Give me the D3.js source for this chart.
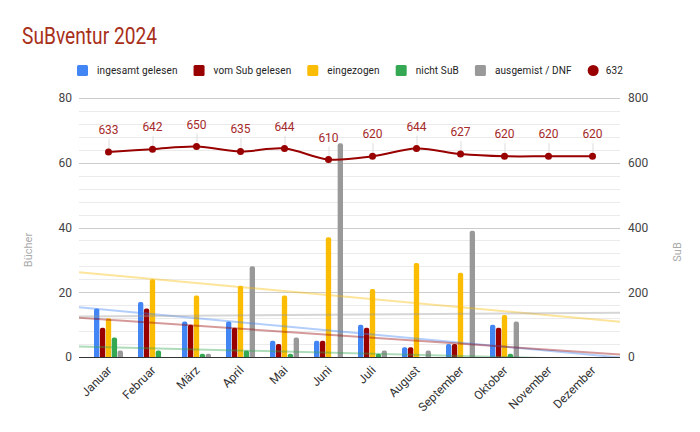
<!DOCTYPE html>
<html>
<head>
<meta charset="utf-8">
<script src="https://cdn.jsdelivr.net/npm/d3@7"></script>
<style>
  html, body { margin: 0; padding: 0; background: #fff; }
  svg { display: block; font-family: Roboto, "Noto Sans", Arial, sans-serif; }
</style>
</head>
<body>
<svg id="chart" width="700" height="432"></svg>
<script>
// ---- data ----
const months = ["Januar","Februar","März","April","Mai","Juni","Juli","August","September","Oktober","November","Dezember"];
const seriesNames = ["ingesamt gelesen","vom Sub gelesen","eingezogen","nicht SuB","ausgemist / DNF"];
const seriesColors = ["#4285f4","#990000","#fbbc04","#34a853","#999999"];
const gelesen    = [15,17,11,11,5,5,10,3,4,10,0,0];
const vomSub     = [9,15,10,9,4,5,9,3,4,9,0,0];
const eingezogen = [12,24,19,22,19,37,21,29,26,13,0,0];
const nichtSub   = [6,2,1,2,1,0,1,0,0,1,0,0];
const ausgemist  = [2,0,1,28,6,66,2,2,39,11,0,0];
const subName = "632";
const subValues  = [633,642,650,635,644,610,620,644,627,620,620,620];
const leftTicks  = [0,20,40,60,80];
const rightTicks = [0,200,400,600,800];
const minorTicks = d3.range(0, 81, 4);

const barSeries = [gelesen, vomSub, eingezogen, nichtSub, ausgemist];

// ---- layout ----
const svg = d3.select("#chart");
const plot = {left: 79, right: 620, top: 98, bottom: 357};
const lineColor = "#990000";

const x = d3.scaleBand().domain(months).range([86.5, 614.5]).paddingInner(0).paddingOuter(0);
const xInner = d3.scaleBand().domain(d3.range(5)).range([-14.5, 14.5]).paddingInner(0.1);
const y = d3.scaleLinear().domain([0, 80]).range([plot.bottom, plot.top]);
const y2 = d3.scaleLinear().domain([0, 800]).range([plot.bottom, plot.top]);
// index scale for trend lines (1-based month index -> band centre)
const xi = d3.scaleLinear().domain([1, 12]).range([x(months[0]) + x.bandwidth()/2, x(months[11]) + x.bandwidth()/2]);

// title
svg.append("text").attr("x", 22).attr("y", 44)
  .attr("font-size", 23).attr("fill", "#a8301a")
  .attr("textLength", 135).attr("lengthAdjust", "spacingAndGlyphs")
  .text("SuBventur 2024");

// legend
const legend = svg.append("g").attr("font-size", 10).attr("fill", "#222").attr("letter-spacing", 0.12);
let lx = 77;
const ly = 70.5;
seriesNames.forEach((name, i) => {
  legend.append("rect").attr("x", lx).attr("y", ly - 5.5).attr("width", 11).attr("height", 11)
    .attr("rx", 1.5).attr("fill", seriesColors[i]);
  const t = legend.append("text").attr("x", lx + 20).attr("y", ly + 3.5).text(name);
  const w = t.node().getComputedTextLength();
  lx = lx + 20 + w + 16;
});
legend.append("circle").attr("cx", lx + 5.5).attr("cy", ly).attr("r", 5.5).attr("fill", lineColor);
legend.append("text").attr("x", lx + 18).attr("y", ly + 3.5).text(subName);

// gridlines
const grid = svg.append("g");
grid.selectAll("line.minor").data(minorTicks.filter(v => v % 20 !== 0)).join("line")
  .attr("x1", plot.left).attr("x2", plot.right)
  .attr("y1", d => Math.round(y(d)) + 0.5).attr("y2", d => Math.round(y(d)) + 0.5)
  .attr("stroke", "#ebebeb").attr("stroke-width", 1);
grid.selectAll("line.major").data(leftTicks.filter(v => v !== 0)).join("line")
  .attr("x1", plot.left).attr("x2", plot.right)
  .attr("y1", d => Math.round(y(d)) + 0.5).attr("y2", d => Math.round(y(d)) + 0.5)
  .attr("stroke", "#cccccc").attr("stroke-width", 1);

// left axis labels
const leftAxis = d3.axisLeft(y).tickValues(leftTicks).tickSize(0).tickPadding(0);
svg.append("g").attr("transform", `translate(${plot.left - 7},0)`).call(leftAxis)
  .call(g => g.select(".domain").remove())
  .call(g => g.selectAll("text").attr("font-size", 12).attr("fill", "#444").attr("font-family", "Roboto, sans-serif"));

// right axis labels
const rightAxis = d3.axisRight(y2).tickValues(rightTicks).tickSize(0).tickPadding(0);
svg.append("g").attr("transform", `translate(${plot.right + 8},0)`).call(rightAxis)
  .call(g => g.select(".domain").remove())
  .call(g => g.selectAll("text").attr("font-size", 12).attr("fill", "#444").attr("font-family", "Roboto, sans-serif"));

// axis titles
svg.append("text").attr("transform", `translate(32,250) rotate(-90)`)
  .attr("text-anchor", "middle").attr("font-size", 11).attr("fill", "#aaaaaa").text("Bücher");
svg.append("text").attr("transform", `translate(681,252) rotate(-90)`)
  .attr("text-anchor", "middle").attr("font-size", 11).attr("fill", "#aaaaaa").text("SuB");

// bars
function barPath(x0, w, yTop, yBot) {
  const h = yBot - yTop;
  if (h <= 0) return "";
  const r = Math.min(2, w / 2, h);
  return `M${x0},${yBot}V${yTop + r}Q${x0},${yTop} ${x0 + r},${yTop}H${x0 + w - r}Q${x0 + w},${yTop} ${x0 + w},${yTop + r}V${yBot}Z`;
}
const bars = svg.append("g");
barSeries.forEach((vals, si) => {
  bars.selectAll(null).data(vals.map((v, i) => ({v, m: months[i]}))).join("path")
    .attr("d", d => barPath(x(d.m) + x.bandwidth()/2 + xInner(si), xInner.bandwidth(), y(d.v), y(0)))
    .attr("fill", seriesColors[si]);
});

// trend lines (linear regression over months 1..12)
svg.append("clipPath").attr("id", "clip").append("rect")
  .attr("x", plot.left).attr("y", plot.top).attr("width", plot.right - plot.left).attr("height", plot.bottom - plot.top);
const trends = svg.append("g").attr("clip-path", "url(#clip)");
barSeries.forEach((vals, si) => {
  const pts = vals.map((v, i) => [i + 1, v]);
  const mx = d3.mean(pts, p => p[0]), my = d3.mean(pts, p => p[1]);
  const sxy = d3.sum(pts, p => (p[0] - mx) * (p[1] - my));
  const sxx = d3.sum(pts, p => (p[0] - mx) ** 2);
  const slope = sxy / sxx, icpt = my - slope * mx;
  const i0 = xi.invert(plot.left), i1 = xi.invert(plot.right);
  trends.append("line")
    .attr("x1", plot.left).attr("x2", plot.right)
    .attr("y1", y(icpt + slope * i0)).attr("y2", y(icpt + slope * i1))
    .attr("stroke", seriesColors[si]).attr("stroke-width", 2).attr("stroke-opacity", 0.4);
});

// baseline
svg.append("line").attr("x1", plot.left).attr("x2", plot.right)
  .attr("y1", plot.bottom + 0.5).attr("y2", plot.bottom + 0.5)
  .attr("stroke", "#333").attr("stroke-width", 1);

// x labels
const xAxis = d3.axisBottom(x).tickSize(0).tickPadding(0);
svg.append("g").attr("transform", `translate(0,${plot.bottom})`).call(xAxis)
  .call(g => g.select(".domain").remove())
  .call(g => g.selectAll("text")
    .attr("font-size", 12).attr("fill", "#333").attr("font-family", "Roboto, sans-serif")
    .attr("text-anchor", "end").attr("dy", 0)
    .attr("transform", "translate(4,14) rotate(-45)"));

// SuB line
const lineData = subValues.map((v, i) => ({v, m: months[i]}));
const cx = d => x(d.m) + x.bandwidth()/2;
// leader lines for labels
svg.append("g").selectAll("line").data(lineData).join("line")
  .attr("x1", d => cx(d) + 0.5).attr("x2", d => cx(d) + 0.5)
  .attr("y1", d => y2(d.v) - 13).attr("y2", d => y2(d.v))
  .attr("stroke", "#dddddd").attr("stroke-width", 1);
svg.append("path").datum(lineData)
  .attr("d", d3.line().x(cx).y(d => y2(d.v)).curve(d3.curveCatmullRom.alpha(0.5)))
  .attr("fill", "none").attr("stroke", lineColor).attr("stroke-width", 2);
svg.append("g").selectAll("circle").data(lineData).join("circle")
  .attr("cx", cx).attr("cy", d => y2(d.v)).attr("r", 3.5).attr("fill", lineColor);
svg.append("g").selectAll("text").data(lineData).join("text")
  .attr("x", cx).attr("y", d => y2(d.v) - 18)
  .attr("text-anchor", "middle").attr("font-size", 12).attr("fill", "#a52a2a")
  .text(d => d.v);
</script>
</body>
</html>
